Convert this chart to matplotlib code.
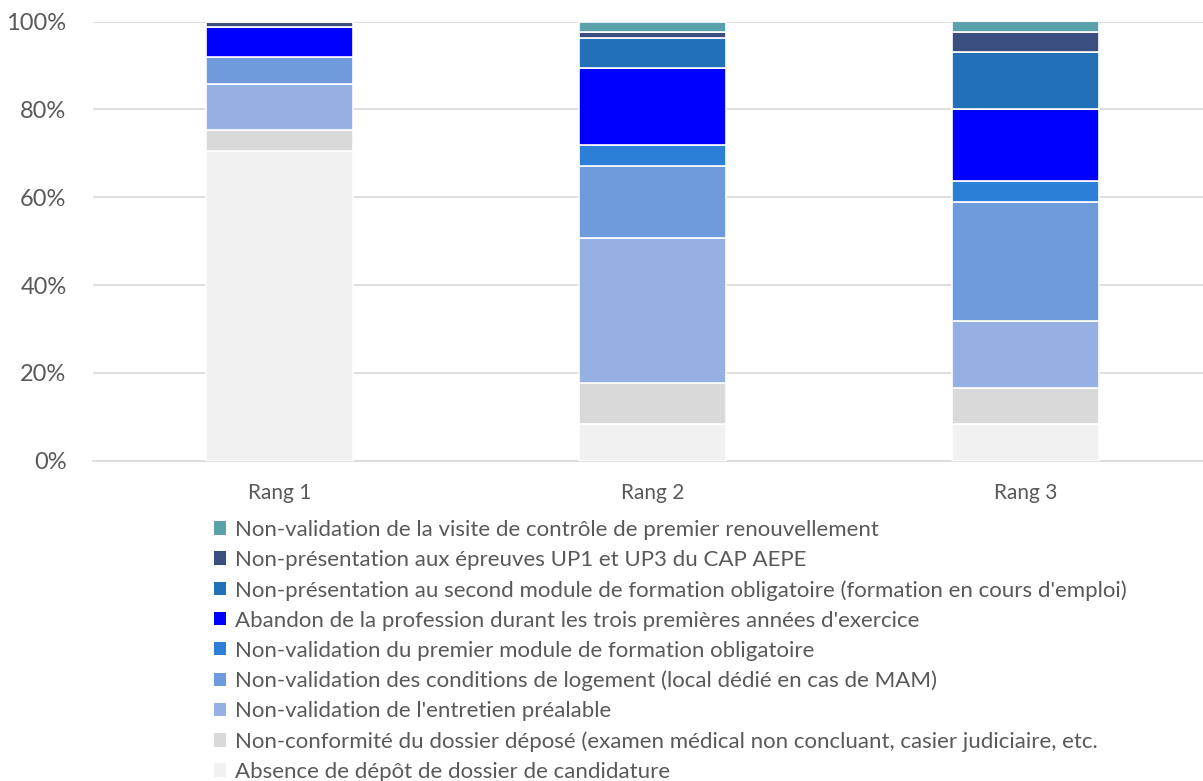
import matplotlib.pyplot as plt
from matplotlib.patches import Patch
from matplotlib.ticker import PercentFormatter
import numpy as np

plt.rcParams['font.family'] = ['Lato', 'DejaVu Sans']

rangs = ["Rang 1", "Rang 2", "Rang 3"]

# series, bottom of the stack first (values in %)
labels = [
    "Absence de dépôt de dossier de candidature",
    "Non-conformité du dossier déposé (examen médical non concluant, casier judiciaire, etc.",
    "Non-validation de l'entretien préalable",
    "Non-validation des conditions de logement (local dédié en cas de MAM)",
    "Non-validation du premier module de formation obligatoire",
    "Abandon de la profession durant les trois premières années d'exercice",
    "Non-présentation au second module de formation obligatoire (formation en cours d'emploi)",
    "Non-présentation aux épreuves UP1 et UP3 du CAP AEPE",
    "Non-validation de la visite de contrôle de premier renouvellement",
]
absence = [70.6, 8.4, 8.4]
non_conformite = [4.7, 9.4, 8.2]
entretien = [10.6, 32.9, 15.2]
logement = [6.0, 16.4, 27.1]
premier_module = [0.0, 4.7, 4.7]
abandon = [7.0, 17.6, 16.5]
second_module = [0.0, 7.0, 12.9]
up1_up3 = [1.1, 1.25, 4.75]
visite = [0.0, 2.35, 2.35]

series = [absence, non_conformite, entretien, logement, premier_module,
          abandon, second_module, up1_up3, visite]
colors = ["#F1F1F1", "#D9D9D9", "#95B1E3", "#6E9BDC", "#2B7FD7",
          "#0000FF", "#2170B8", "#3A4F80", "#5BA1AB"]

fig = plt.figure(figsize=(12.03, 7.81), dpi=100)
ax = fig.add_axes([93 / 1203, 320.3 / 781, (1203 - 93) / 1203, 439 / 781])

x = np.arange(len(rangs))
bottom = np.zeros(len(rangs))
for vals, col in zip(series, colors):
    ax.bar(x, vals, 0.394, bottom=bottom, color=col, edgecolor="white",
           linewidth=1.2, zorder=3)
    bottom += np.array(vals)

ax.set_xlim(-0.501, 2.475)
ax.set_ylim(0, 100)
ax.set_yticks(range(0, 101, 20))
ax.yaxis.set_major_formatter(PercentFormatter(decimals=0))
ax.set_xticks(x)
ax.set_xticklabels(rangs)
ax.tick_params(axis="y", length=0, labelsize=17, colors="#595959", pad=19)
ax.tick_params(axis="x", length=0, labelsize=15, colors="#595959", pad=16)
ax.grid(axis="y", color="#D9D9D9", linewidth=1.2, zorder=0)
for s in ["top", "right", "left"]:
    ax.spines[s].set_visible(False)
ax.spines["bottom"].set_color("#D9D9D9")
ax.spines["bottom"].set_linewidth(1.2)

handles = [Patch(facecolor=c, edgecolor="none") for c in colors][::-1]
fig.legend(handles, labels[::-1], loc="upper left",
           bbox_to_anchor=(214 / 1203, 1 - 520 / 781), frameon=False,
           fontsize=16, labelcolor="#595959", handlelength=0.55,
           handleheight=0.55, handletextpad=0.4, labelspacing=0.45,
           borderaxespad=0, borderpad=0)

fig.savefig("out.png", dpi=100)
